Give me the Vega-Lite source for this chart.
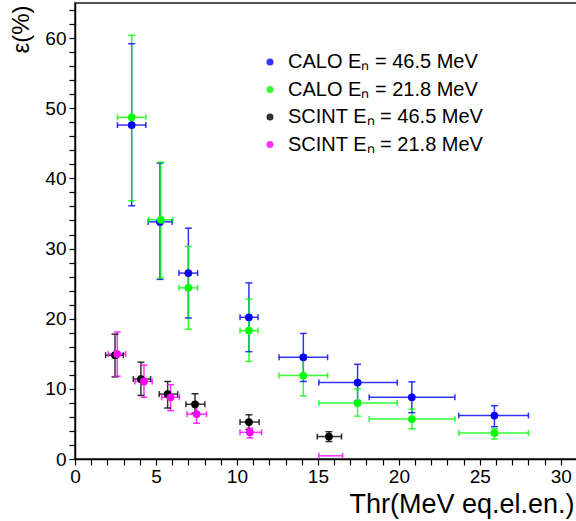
{
  "$schema": "https://vega.github.io/schema/vega-lite/v6.json",
  "width": 502,
  "height": 456,
  "autosize": "none",
  "padding": {"left": 75, "top": 3, "right": 0, "bottom": 62},
  "background": "white",
  "config": {
    "view": {"stroke": "#555555", "strokeWidth": 2},
    "font": "Liberation Sans",
    "axis": {
      "tickColor": "#000000", "tickWidth": 1.2,
      "domainColor": "#000000", "domainWidth": 1.5,
      "grid": false, "labelFlush": false,
      "labelFont": "Liberation Sans", "labelFontSize": 19, "labelColor": "#000000",
      "titleFont": "Liberation Sans", "titleFontWeight": "normal", "titleColor": "#000000"
    }
  },
  "data": {
    "values": [
      {"s": "CALO Eₙ = 46.5 MeV", "x": 3.5, "xlo": 2.62, "xhi": 4.38, "y": 47.6, "ylo": 36.1, "yhi": 59.2, "m": true},
      {"s": "CALO Eₙ = 46.5 MeV", "x": 5.25, "xlo": 4.52, "xhi": 6.0, "y": 33.8, "ylo": 25.6, "yhi": 42.2, "m": true},
      {"s": "CALO Eₙ = 46.5 MeV", "x": 7.0, "xlo": 6.42, "xhi": 7.57, "y": 26.5, "ylo": 20.1, "yhi": 32.9, "m": true},
      {"s": "CALO Eₙ = 46.5 MeV", "x": 10.74, "xlo": 10.19, "xhi": 11.3, "y": 20.2, "ylo": 15.3, "yhi": 25.1, "m": true},
      {"s": "CALO Eₙ = 46.5 MeV", "x": 14.1, "xlo": 12.6, "xhi": 15.6, "y": 14.5, "ylo": 11.05, "yhi": 17.9, "m": true},
      {"s": "CALO Eₙ = 46.5 MeV", "x": 17.45, "xlo": 15.06, "xhi": 19.9, "y": 10.9, "ylo": 8.3, "yhi": 13.5, "m": true},
      {"s": "CALO Eₙ = 46.5 MeV", "x": 20.8, "xlo": 18.17, "xhi": 23.46, "y": 8.8, "ylo": 6.6, "yhi": 11.0, "m": true},
      {"s": "CALO Eₙ = 46.5 MeV", "x": 25.9, "xlo": 23.7, "xhi": 28.0, "y": 6.2, "ylo": 4.6, "yhi": 7.6, "m": true},
      {"s": "CALO Eₙ = 21.8 MeV", "x": 3.5, "xlo": 2.62, "xhi": 4.38, "y": 48.7, "ylo": 36.8, "yhi": 60.4, "m": true},
      {"s": "CALO Eₙ = 21.8 MeV", "x": 5.3, "xlo": 4.55, "xhi": 6.05, "y": 34.1, "ylo": 25.8, "yhi": 42.3, "m": true},
      {"s": "CALO Eₙ = 21.8 MeV", "x": 7.0, "xlo": 6.42, "xhi": 7.57, "y": 24.4, "ylo": 18.5, "yhi": 30.3, "m": true},
      {"s": "CALO Eₙ = 21.8 MeV", "x": 10.74, "xlo": 10.19, "xhi": 11.3, "y": 18.3, "ylo": 13.9, "yhi": 22.8, "m": true},
      {"s": "CALO Eₙ = 21.8 MeV", "x": 14.1, "xlo": 12.6, "xhi": 15.6, "y": 11.9, "ylo": 9.0, "yhi": 14.8, "m": true},
      {"s": "CALO Eₙ = 21.8 MeV", "x": 17.45, "xlo": 15.06, "xhi": 19.9, "y": 8.0, "ylo": 6.1, "yhi": 10.0, "m": true},
      {"s": "CALO Eₙ = 21.8 MeV", "x": 20.8, "xlo": 18.17, "xhi": 23.46, "y": 5.7, "ylo": 4.3, "yhi": 7.1, "m": true},
      {"s": "CALO Eₙ = 21.8 MeV", "x": 25.9, "xlo": 23.7, "xhi": 28.0, "y": 3.7, "ylo": 2.85, "yhi": 4.3, "m": true},
      {"s": "SCINT Eₙ = 46.5 MeV", "x": 2.47, "xlo": 1.89, "xhi": 2.98, "y": 14.8, "ylo": 11.7, "yhi": 17.8, "m": true},
      {"s": "SCINT Eₙ = 46.5 MeV", "x": 4.07, "xlo": 3.6, "xhi": 4.67, "y": 11.4, "ylo": 9.06, "yhi": 13.8, "m": true},
      {"s": "SCINT Eₙ = 46.5 MeV", "x": 5.72, "xlo": 5.2, "xhi": 6.34, "y": 9.25, "ylo": 7.26, "yhi": 11.05, "m": true},
      {"s": "SCINT Eₙ = 46.5 MeV", "x": 7.41, "xlo": 6.85, "xhi": 8.02, "y": 7.8, "ylo": 6.55, "yhi": 9.3, "m": true},
      {"s": "SCINT Eₙ = 46.5 MeV", "x": 10.74, "xlo": 10.19, "xhi": 11.37, "y": 5.27, "ylo": 4.2, "yhi": 6.3, "m": true},
      {"s": "SCINT Eₙ = 46.5 MeV", "x": 15.68, "xlo": 14.96, "xhi": 16.46, "y": 3.2, "ylo": 2.5, "yhi": 3.9, "m": true},
      {"s": "SCINT Eₙ = 21.8 MeV", "x": 2.61, "xlo": 2.06, "xhi": 3.13, "y": 14.96, "ylo": 11.8, "yhi": 18.1, "m": true},
      {"s": "SCINT Eₙ = 21.8 MeV", "x": 4.26, "xlo": 3.7, "xhi": 4.77, "y": 11.05, "ylo": 8.8, "yhi": 13.4, "m": true},
      {"s": "SCINT Eₙ = 21.8 MeV", "x": 5.9, "xlo": 5.35, "xhi": 6.45, "y": 8.8, "ylo": 6.9, "yhi": 10.6, "m": true},
      {"s": "SCINT Eₙ = 21.8 MeV", "x": 7.51, "xlo": 6.92, "xhi": 8.12, "y": 6.4, "ylo": 5.1, "yhi": 7.9, "m": true},
      {"s": "SCINT Eₙ = 21.8 MeV", "x": 10.8, "xlo": 10.19, "xhi": 11.52, "y": 3.8, "ylo": 3.0, "yhi": 4.4, "m": true},
      {"s": "SCINT Eₙ = 21.8 MeV", "x": 15.79, "xlo": 15.06, "xhi": 16.52, "y": 0.45, "ylo": null, "yhi": null, "m": false}
    ]
  },
  "layer": [
    {
      "mark": {"type": "rule", "strokeWidth": 1.5, "opacity": 0.8},
      "encoding": {
        "x": {"field": "xlo", "type": "quantitative", "scale": {"domain": [0, 31], "nice": false, "zero": false},
          "axis": {"values": [0,1,2,3,4,5,6,7,8,9,10,11,12,13,14,15,16,17,18,19,20,21,22,23,24,25,26,27,28,29,30,31], "labelExpr": "datum.value % 5 === 0 ? datum.label : ''", "labelOverlap": false, "ticks": true, "tickSize": 6, "labelPadding": 2, "title": "Thr(MeV eq.el.en.)", "titleFontSize": 27, "titleAnchor": "end", "titleAlign": "right", "titleBaseline": "alphabetic", "titleX": 499, "titleY": 53}},
        "x2": {"field": "xhi"},
        "y": {"field": "y", "type": "quantitative", "scale": {"domain": [0, 65], "nice": false, "zero": false},
          "axis": {"values": [0,2,4,6,8,10,12,14,16,18,20,22,24,26,28,30,32,34,36,38,40,42,44,46,48,50,52,54,56,58,60,62,64], "labelExpr": "datum.value % 10 === 0 ? datum.label : ''", "labelOverlap": false, "ticks": true, "tickSize": 6, "labelPadding": 3, "title": "ε(%)", "titleFontSize": 24, "titleAngle": 270, "titleAlign": "right", "titleBaseline": "middle", "titleX": -54, "titleY": 2}},
        "color": {"field": "s", "type": "nominal",
          "scale": {"domain": ["CALO Eₙ = 46.5 MeV", "CALO Eₙ = 21.8 MeV", "SCINT Eₙ = 46.5 MeV", "SCINT Eₙ = 21.8 MeV"], "range": ["#0000ff", "#00ff00", "#000000", "#ff00ff"]},
          "legend": {
            "orient": "none", "legendX": 185, "legendY": 49, "title": null, "padding": 0,
            "symbolType": "circle", "symbolSize": 50, "symbolStrokeWidth": 0, "symbolOpacity": 1,
            "labelFont": "Liberation Sans", "labelFontSize": 20, "labelColor": "#000000", "labelOffset": 8,
            "rowPadding": 7.5, "labelLimit": 400
          }}
      }
    },
    {
      "transform": [{"filter": "datum.ylo != null"}],
      "mark": {"type": "rule", "strokeWidth": 1.5, "opacity": 0.8},
      "encoding": {
        "x": {"field": "x", "type": "quantitative",
          "axis": {"values": [0,1,2,3,4,5,6,7,8,9,10,11,12,13,14,15,16,17,18,19,20,21,22,23,24,25,26,27,28,29,30,31], "labelExpr": "datum.value % 5 === 0 ? datum.label : ''", "labelOverlap": false, "ticks": true, "tickSize": 6, "labelPadding": 2, "title": "Thr(MeV eq.el.en.)", "titleFontSize": 27, "titleAnchor": "end", "titleAlign": "right", "titleBaseline": "alphabetic", "titleX": 499, "titleY": 53}},
        "y": {"field": "ylo", "type": "quantitative",
          "axis": {"values": [0,2,4,6,8,10,12,14,16,18,20,22,24,26,28,30,32,34,36,38,40,42,44,46,48,50,52,54,56,58,60,62,64], "labelExpr": "datum.value % 10 === 0 ? datum.label : ''", "labelOverlap": false, "ticks": true, "tickSize": 6, "labelPadding": 3, "title": "ε(%)", "titleFontSize": 24, "titleAngle": 270, "titleAlign": "right", "titleBaseline": "middle", "titleX": -54, "titleY": 2}},
        "y2": {"field": "yhi"},
        "color": {"field": "s", "type": "nominal"}
      }
    },
    {
      "mark": {"type": "tick", "orient": "vertical", "size": 6, "thickness": 1.5, "opacity": 0.8},
      "encoding": {
        "x": {"field": "xlo", "type": "quantitative",
          "axis": {"values": [0,1,2,3,4,5,6,7,8,9,10,11,12,13,14,15,16,17,18,19,20,21,22,23,24,25,26,27,28,29,30,31], "labelExpr": "datum.value % 5 === 0 ? datum.label : ''", "labelOverlap": false, "ticks": true, "tickSize": 6, "labelPadding": 2, "title": "Thr(MeV eq.el.en.)", "titleFontSize": 27, "titleAnchor": "end", "titleAlign": "right", "titleBaseline": "alphabetic", "titleX": 499, "titleY": 53}},
        "y": {"field": "y", "type": "quantitative",
          "axis": {"values": [0,2,4,6,8,10,12,14,16,18,20,22,24,26,28,30,32,34,36,38,40,42,44,46,48,50,52,54,56,58,60,62,64], "labelExpr": "datum.value % 10 === 0 ? datum.label : ''", "labelOverlap": false, "ticks": true, "tickSize": 6, "labelPadding": 3, "title": "ε(%)", "titleFontSize": 24, "titleAngle": 270, "titleAlign": "right", "titleBaseline": "middle", "titleX": -54, "titleY": 2}},
        "color": {"field": "s", "type": "nominal"}
      }
    },
    {
      "mark": {"type": "tick", "orient": "vertical", "size": 6, "thickness": 1.5, "opacity": 0.8},
      "encoding": {
        "x": {"field": "xhi", "type": "quantitative",
          "axis": {"values": [0,1,2,3,4,5,6,7,8,9,10,11,12,13,14,15,16,17,18,19,20,21,22,23,24,25,26,27,28,29,30,31], "labelExpr": "datum.value % 5 === 0 ? datum.label : ''", "labelOverlap": false, "ticks": true, "tickSize": 6, "labelPadding": 2, "title": "Thr(MeV eq.el.en.)", "titleFontSize": 27, "titleAnchor": "end", "titleAlign": "right", "titleBaseline": "alphabetic", "titleX": 499, "titleY": 53}},
        "y": {"field": "y", "type": "quantitative",
          "axis": {"values": [0,2,4,6,8,10,12,14,16,18,20,22,24,26,28,30,32,34,36,38,40,42,44,46,48,50,52,54,56,58,60,62,64], "labelExpr": "datum.value % 10 === 0 ? datum.label : ''", "labelOverlap": false, "ticks": true, "tickSize": 6, "labelPadding": 3, "title": "ε(%)", "titleFontSize": 24, "titleAngle": 270, "titleAlign": "right", "titleBaseline": "middle", "titleX": -54, "titleY": 2}},
        "color": {"field": "s", "type": "nominal"}
      }
    },
    {
      "transform": [{"filter": "datum.ylo != null"}],
      "mark": {"type": "tick", "orient": "horizontal", "size": 7, "thickness": 1.5, "opacity": 0.8},
      "encoding": {
        "x": {"field": "x", "type": "quantitative",
          "axis": {"values": [0,1,2,3,4,5,6,7,8,9,10,11,12,13,14,15,16,17,18,19,20,21,22,23,24,25,26,27,28,29,30,31], "labelExpr": "datum.value % 5 === 0 ? datum.label : ''", "labelOverlap": false, "ticks": true, "tickSize": 6, "labelPadding": 2, "title": "Thr(MeV eq.el.en.)", "titleFontSize": 27, "titleAnchor": "end", "titleAlign": "right", "titleBaseline": "alphabetic", "titleX": 499, "titleY": 53}},
        "y": {"field": "ylo", "type": "quantitative",
          "axis": {"values": [0,2,4,6,8,10,12,14,16,18,20,22,24,26,28,30,32,34,36,38,40,42,44,46,48,50,52,54,56,58,60,62,64], "labelExpr": "datum.value % 10 === 0 ? datum.label : ''", "labelOverlap": false, "ticks": true, "tickSize": 6, "labelPadding": 3, "title": "ε(%)", "titleFontSize": 24, "titleAngle": 270, "titleAlign": "right", "titleBaseline": "middle", "titleX": -54, "titleY": 2}},
        "color": {"field": "s", "type": "nominal"}
      }
    },
    {
      "transform": [{"filter": "datum.yhi != null"}],
      "mark": {"type": "tick", "orient": "horizontal", "size": 7, "thickness": 1.5, "opacity": 0.8},
      "encoding": {
        "x": {"field": "x", "type": "quantitative",
          "axis": {"values": [0,1,2,3,4,5,6,7,8,9,10,11,12,13,14,15,16,17,18,19,20,21,22,23,24,25,26,27,28,29,30,31], "labelExpr": "datum.value % 5 === 0 ? datum.label : ''", "labelOverlap": false, "ticks": true, "tickSize": 6, "labelPadding": 2, "title": "Thr(MeV eq.el.en.)", "titleFontSize": 27, "titleAnchor": "end", "titleAlign": "right", "titleBaseline": "alphabetic", "titleX": 499, "titleY": 53}},
        "y": {"field": "yhi", "type": "quantitative",
          "axis": {"values": [0,2,4,6,8,10,12,14,16,18,20,22,24,26,28,30,32,34,36,38,40,42,44,46,48,50,52,54,56,58,60,62,64], "labelExpr": "datum.value % 10 === 0 ? datum.label : ''", "labelOverlap": false, "ticks": true, "tickSize": 6, "labelPadding": 3, "title": "ε(%)", "titleFontSize": 24, "titleAngle": 270, "titleAlign": "right", "titleBaseline": "middle", "titleX": -54, "titleY": 2}},
        "color": {"field": "s", "type": "nominal"}
      }
    },
    {
      "transform": [{"filter": "datum.m"}],
      "mark": {"type": "circle", "size": 60, "opacity": 1},
      "encoding": {
        "x": {"field": "x", "type": "quantitative",
          "axis": {"values": [0,1,2,3,4,5,6,7,8,9,10,11,12,13,14,15,16,17,18,19,20,21,22,23,24,25,26,27,28,29,30,31], "labelExpr": "datum.value % 5 === 0 ? datum.label : ''", "labelOverlap": false, "ticks": true, "tickSize": 6, "labelPadding": 2, "title": "Thr(MeV eq.el.en.)", "titleFontSize": 27, "titleAnchor": "end", "titleAlign": "right", "titleBaseline": "alphabetic", "titleX": 499, "titleY": 53}},
        "y": {"field": "y", "type": "quantitative",
          "axis": {"values": [0,2,4,6,8,10,12,14,16,18,20,22,24,26,28,30,32,34,36,38,40,42,44,46,48,50,52,54,56,58,60,62,64], "labelExpr": "datum.value % 10 === 0 ? datum.label : ''", "labelOverlap": false, "ticks": true, "tickSize": 6, "labelPadding": 3, "title": "ε(%)", "titleFontSize": 24, "titleAngle": 270, "titleAlign": "right", "titleBaseline": "middle", "titleX": -54, "titleY": 2}},
        "color": {"field": "s", "type": "nominal"}
      }
    }
  ]
}
